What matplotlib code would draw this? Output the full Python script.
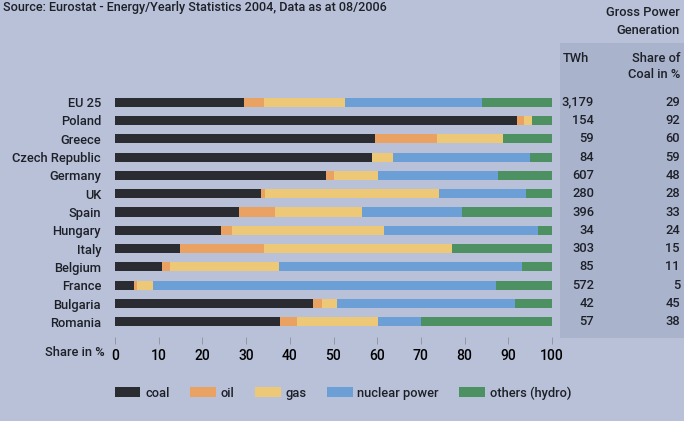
import matplotlib.pyplot as plt
import matplotlib.transforms as mtransforms
from matplotlib.patches import Patch, Rectangle

plt.rcParams['font.family'] = ['Roboto', 'DejaVu Sans']
plt.rcParams['font.weight'] = 'medium'

countries = ['EU 25', 'Poland', 'Greece', 'Czech Republic', 'Germany', 'UK', 'Spain',
             'Hungary', 'Italy', 'Belgium', 'France', 'Bulgaria', 'Romania']
coal = [29.5, 92.0, 59.5, 58.8, 48.3, 33.3, 28.4, 24.2, 14.9, 10.7, 4.4, 45.4, 37.8]
oil = [4.6, 1.5, 14.1, 0.0, 1.8, 1.0, 8.3, 2.6, 19.3, 1.8, 0.6, 2.0, 3.9]
gas = [18.6, 2.0, 15.3, 4.8, 10.1, 39.9, 19.9, 34.7, 43.0, 25.1, 3.6, 3.5, 18.5]
nuclear = [31.3, 0.0, 0.0, 31.4, 27.5, 19.9, 22.8, 35.4, 0.0, 55.6, 78.5, 40.7, 9.9]
others = [16.0, 4.5, 11.1, 5.0, 12.3, 5.9, 20.6, 3.1, 22.8, 6.8, 12.9, 8.4, 29.9]
twh = ['3,179', '154', '59', '84', '607', '280', '396', '34', '303', '85', '572', '42', '57']
coal_share = ['29', '92', '60', '59', '48', '28', '33', '24', '15', '11', '5', '45', '38']
xticks = [0, 10, 20, 30, 40, 50, 60, 70, 80, 90, 100]

series = [('coal', coal, '#2a2c31'), ('oil', oil, '#e9a262'), ('gas', gas, '#ecc877'),
          ('nuclear power', nuclear, '#6b9fd6'), ('others (hydro)', others, '#4d9163')]

bg = '#b8c1d7'
panel = '#a9b4cc'
txt = '#1e2028'
fs = 9.3

fig = plt.figure(figsize=(6.84, 4.21), dpi=100, facecolor=bg)
ax = fig.add_axes([115 / 684, 1 - 331 / 421, 437 / 684, 238 / 421])
ax.set_facecolor('none')

# right-hand table panel
fig.patches.append(Rectangle((560 / 684, 1 - 338 / 421), 124 / 684, 295 / 421,
                             transform=fig.transFigure, facecolor=panel,
                             edgecolor='none', zorder=0))

ypos = list(range(len(countries)))
left = [0.0] * len(countries)
for name, vals, col in series:
    ax.barh(ypos, vals, left=left, height=0.5, color=col, label=name)
    left = [l + v for l, v in zip(left, vals)]

ax.set_xlim(0, 100)
ax.set_ylim(len(countries) - 0.5, -0.5)
ax.set_yticks(ypos)
ax.set_yticklabels(countries, fontsize=fs, color=txt)
ax.set_xticks(xticks)
ax.set_xticklabels([str(t) for t in xticks], fontsize=fs, color=txt)
ax.tick_params(axis='y', length=0, pad=10)
ax.tick_params(axis='x', length=5, width=0.6, color='#8b909c', pad=4)
for s in ax.spines.values():
    s.set_visible(False)
ax.spines['bottom'].set_position(('outward', 4))

fig.text(105 / 684, 1 - 352 / 421, 'Share in %', ha='right', va='center',
         fontsize=fs, color=txt)

# headers
fig.text(3 / 684, 1 - 8 / 421, 'Source: Eurostat - Energy/Yearly Statistics 2004, Data as at 08/2006',
         ha='left', va='center', fontsize=9.1, color=txt)
fig.text(680 / 684, 1 - 13 / 421, 'Gross Power', ha='right', va='center', fontsize=fs, color=txt)
fig.text(680 / 684, 1 - 30 / 421, 'Generation', ha='right', va='center', fontsize=fs, color=txt)
fig.text(563 / 684, 1 - 59 / 421, 'TWh', ha='left', va='center', fontsize=fs, color=txt)
fig.text(680 / 684, 1 - 59 / 421, 'Share of', ha='right', va='center', fontsize=fs, color=txt)
fig.text(680 / 684, 1 - 75 / 421, 'Coal in %', ha='right', va='center', fontsize=fs, color=txt)

trans = mtransforms.blended_transform_factory(fig.transFigure, ax.transData)
for i, (t, c) in enumerate(zip(twh, coal_share)):
    fig.text(594 / 684, i, t, transform=trans, ha='right', va='center', fontsize=fs, color=txt)
    fig.text(680 / 684, i, c, transform=trans, ha='right', va='center', fontsize=fs, color=txt)

handles = [Patch(facecolor=col, edgecolor='none') for _, _, col in series]
fig.legend(handles, [n for n, _, _ in series], loc='center', ncol=5,
           bbox_to_anchor=(343 / 684, 1 - 393 / 421), frameon=False,
           fontsize=fs, handlelength=2.0, handleheight=0.8,
           handletextpad=0.35, columnspacing=1.6, labelcolor=txt)

fig.savefig('out.png', dpi=100, facecolor=bg)
